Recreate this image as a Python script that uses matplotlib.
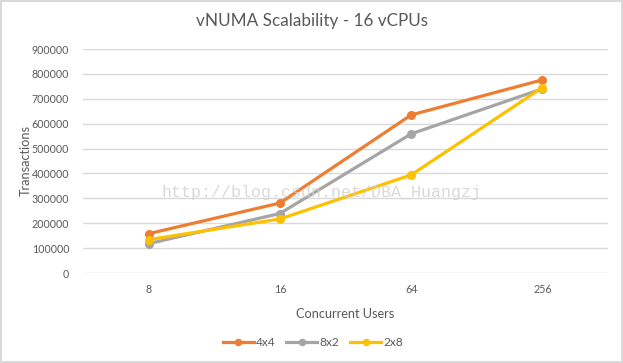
import matplotlib
matplotlib.use('Agg')
import matplotlib.pyplot as plt

# chart data
users = ['8', '16', '64', '256']
tx_4x4 = [158000, 281000, 635000, 776000]
tx_8x2 = [118000, 239000, 559000, 740000]
tx_2x8 = [134000, 217000, 394000, 745000]
y_ticks = [0, 100000, 200000, 300000, 400000, 500000, 600000, 700000, 800000, 900000]

plt.rcParams['font.family'] = ['Lato', 'DejaVu Sans']
txt_col = '#595959'

W, H = 623, 363
fig = plt.figure(figsize=(W / 100, H / 100), dpi=100)
fig.patch.set_edgecolor('#d9d9d9')
fig.patch.set_linewidth(1.5)

# plot area in pixels: x 83..608, y 49..273 (from top)
ax = fig.add_axes([83 / W, 1 - 273 / H, (608 - 83) / W, (273 - 49) / H])

x = list(range(len(users)))
ax.plot(x, tx_4x4, color='#ED7D31', lw=2.3, marker='o', ms=5.5, label='4x4', zorder=3)
ax.plot(x, tx_8x2, color='#A5A5A5', lw=2.3, marker='o', ms=5.5, label='8x2', zorder=3)
ax.plot(x, tx_2x8, color='#FFC000', lw=2.3, marker='o', ms=5.5, label='2x8', zorder=4)

ax.set_xlim(-0.5, len(users) - 0.5)
ax.set_ylim(0, 900000)
ax.set_xticks(x)
ax.set_xticklabels(users)
ax.set_yticks(y_ticks)
ax.set_yticklabels([str(v) for v in y_ticks])
ax.grid(True, axis='y', color='#d9d9d9', lw=1)
ax.set_axisbelow(True)
for s in ax.spines.values():
    s.set_visible(False)
ax.tick_params(axis='both', length=0, labelsize=7.7, colors=txt_col, pad=8)
ax.tick_params(axis='y', pad=10)

ax.set_xlabel('Concurrent Users', fontsize=9.2, color=txt_col)
ax.set_ylabel('Transactions', fontsize=9.2, color=txt_col)
ax.xaxis.set_label_coords(0.5, (273 - 308) / 224)
ax.yaxis.set_label_coords((32 - 83) / 525, 0.5)
fig.text(0.5, 1 - 21 / H, 'vNUMA Scalability - 16 vCPUs', ha='center', va='center',
         fontsize=12.3, color=txt_col)

fig.legend(loc='center', bbox_to_anchor=(313 / W, 1 - 343 / H), ncol=3, frameon=False,
           fontsize=8.6, labelcolor=txt_col, handlelength=2.6, handletextpad=0.2,
           columnspacing=0.9, markerscale=0.8)

# watermark
fig.text(321 / W, 1 - 192 / H, 'http://blog.csdn.net/DBA_Huangzj', ha='center', va='center',
         fontsize=12, family='Liberation Mono', color='#d0d0d0', alpha=0.8, zorder=5)

fig.savefig('out.png', dpi=100)
